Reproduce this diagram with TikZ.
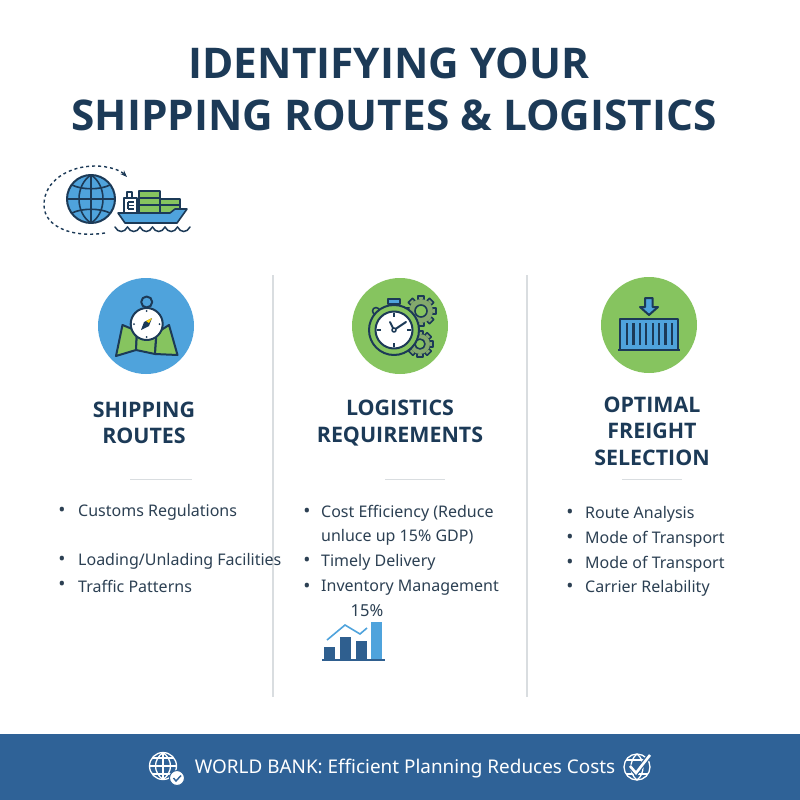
\documentclass[tikz,border=0pt]{standalone}
\usepackage{fontspec}
\setmainfont{Noto Sans}
\newfontfamily\headfont{Open Sans}
\usetikzlibrary{arrows.meta}
\definecolor{navy}{HTML}{1C3A57}
\definecolor{bodyink}{HTML}{2C4053}
\definecolor{band}{HTML}{2F6297}
\definecolor{skyblue}{HTML}{4FA3DC}
\definecolor{leaf}{HTML}{86C45F}
\definecolor{midblue}{HTML}{2F5F8F}
\definecolor{rulegray}{HTML}{D9DDE0}
\tikzset{
    titletext/.style={font=\fontsize{42.3}{42}\selectfont\headfont\bfseries, text=navy, anchor=center},
    headtext/.style={font=\fontsize{21.4}{26.5}\selectfont\headfont\bfseries, text=navy, align=center, anchor=center},
    itemtext/.style={font=\fontsize{16}{16}\selectfont, text=bodyink, anchor=west, inner sep=0pt},
    dotmark/.style={font=\fontsize{19}{19}\selectfont, text=bodyink, anchor=center, inner sep=0pt},
    icon/.style={draw=navy, line width=2pt, line join=round},
    thin icon/.style={draw=navy, line width=1.6pt, line join=round},
    white icon/.style={draw=white, line width=1.3pt},
}
\begin{document}
\begin{tikzpicture}[x=1pt,y=-1pt]
    \useasboundingbox (0,0) rectangle (800,800);
    \fill[white] (0,0) rectangle (800,800);

    % title
    \node[titletext] (titleA) at (389,63) {IDENTIFYING YOUR};
    \node[titletext] (titleB) at (394,115) {SHIPPING ROUTES \& LOGISTICS};

    % globe and ship
    \draw[navy, line width=1.4pt, dashed, -{Stealth[length=7pt]}] (105,233) .. controls (75,238) and (44,228) .. (44,205)
        .. controls (44,180) and (70,166) .. (95,166) .. controls (108,166) and (120,170) .. (127,177);
    \filldraw[icon, fill=skyblue] (91,199) circle (24);
    \draw[thin icon] (67,199) -- (115,199);
    \draw[thin icon] (91,175) -- (91,223);
    \draw[thin icon] (91,175) .. controls (75,185) and (75,213) .. (91,223);
    \draw[thin icon] (91,175) .. controls (107,185) and (107,213) .. (91,223);
    \draw[thin icon] (72,185) .. controls (82,190) and (100,190) .. (110,185);
    \draw[thin icon] (72,213) .. controls (82,208) and (100,208) .. (110,213);
    \filldraw[thin icon, fill=white] (127,192) rectangle (132,198);
    \filldraw[thin icon, fill=white] (124,198) rectangle (137,213);
    \draw[navy, line width=1.2pt] (128,202) -- (134,202) (128,205.5) -- (134,205.5) (128,209) -- (134,209) (128,202) -- (128,209);
    \filldraw[thin icon, fill=leaf] (139,191) rectangle (160,213);
    \filldraw[thin icon, fill=leaf] (160,199) rectangle (180,213);
    \draw[thin icon] (139,198) -- (160,198) (139,205) -- (180,205);
    \filldraw[thin icon, fill=skyblue] (118,213) -- (170,213) -- (175,209) -- (187,209) -- (177,223) -- (125,223) -- cycle;
    \foreach \wx in {0,1,...,5} {
        \draw[navy, line width=1.5pt, line cap=round] (115+12.5*\wx,227) .. controls (118+12.5*\wx,233) and (124.5+12.5*\wx,233) .. (127.5+12.5*\wx,227);
    }

    % column separators
    \draw[rulegray, line width=1.2pt] (273,275) -- (273,697);
    \draw[rulegray, line width=1.2pt] (527,275) -- (527,697);

    % map icon
    \fill[skyblue] (146,326) circle (48);
    \filldraw[icon, fill=leaf] (116,356) -- (122.5,325) -- (137,331) -- (136,350) -- cycle;
    \filldraw[icon, fill=leaf] (136,350) -- (137,331) -- (156.5,333) -- (155,354) -- cycle;
    \filldraw[icon, fill=leaf] (155,354) -- (156.5,333) -- (169,325) -- (177.5,355) -- cycle;
    \draw[icon] (146.7,302) circle (5.5);
    \filldraw[icon, fill=white] (146.7,324) circle (16);
    \fill[navy] (152,318) -- (149,326) -- (141,330) -- (144,322) -- cycle;
    \fill[yellow!70!orange] (152,318) -- (149,323) -- (146,321) -- cycle;
    \fill[navy] (146.7,311) circle (1) (146.7,337) circle (1) (134,324) circle (1) (159.5,324) circle (1);

    % stopwatch icon
    \fill[leaf] (400,326) circle (48);
    \foreach \gx/\gy/\gr in {421/311/12, 420/344/10} {
        \foreach \ang in {0,45,...,315} {
            \filldraw[thin icon, fill=leaf!60!gray, rotate around={\ang:(\gx,\gy)}] (\gx-3,\gy-\gr+1) rectangle (\gx+3,\gy-\gr-3);
        }
        \fill[leaf!60!gray] (\gx,\gy) circle (\gr);
        \filldraw[thin icon, fill=leaf] (\gx,\gy) circle (\gr*0.5);
    }
    \filldraw[thin icon, fill=skyblue] (388,299) rectangle (400,304);
    \filldraw[thin icon, fill=leaf] (376,311) circle (3.5);
    \filldraw[icon, fill=leaf] (394,330) circle (25);
    \filldraw[icon, fill=white] (394,330) circle (18.5);
    \foreach \ang in {0,90,180,270} {
        \draw[navy, line width=1.2pt, rotate around={\ang:(394,330)}] (394,313) -- (394,317);
    }
    \draw[navy, line width=2pt, line cap=round] (390,322) -- (394,330) -- (406,322);
    \filldraw[thin icon, fill=white] (394,330) circle (2);

    % container icon
    \fill[leaf] (649,325) circle (48);
    \filldraw[icon, fill=skyblue] (645,298) -- (652.5,298) -- (652.5,307) -- (658,307) -- (649,315) -- (640,307) -- (645,307) -- cycle;
    \filldraw[icon, fill=skyblue] (620,319) rectangle (678,350);
    \foreach \bx in {0,1,...,7} {
        \fill[navy] (627+6.4*\bx-1.1,323) rectangle (627+6.4*\bx+1.1,345);
    }
    \draw[navy, line width=2pt] (618,350) -- (680,350);

    % column heads
    \node[headtext] (headA) at (144,423) {SHIPPING\\ROUTES};
    \node[headtext] (headB) at (400,423) {LOGISTICS\\REQUIREMENTS};
    \node[headtext] (headC) at (652,431) {OPTIMAL\\FREIGHT\\SELECTION};
    \draw[rulegray, line width=1pt] (130,479) -- (192,479);
    \draw[rulegray, line width=1pt] (385,479) -- (445,479);
    \draw[rulegray, line width=1pt] (622,479) -- (682,479);

    % first column
    \node[dotmark] (dotA1) at (62,512) {•};
    \node[itemtext] (itemA1) at (78,512) {Customs Regulations};
    \node[dotmark] (dotA2) at (62,561) {•};
    \node[itemtext] (itemA2) at (78,561) {Loading/Unlading Facilities};
    \node[dotmark] (dotA3) at (62,586) {•};
    \node[itemtext] (itemA3) at (78,586) {Traffic Patterns};

    % second column
    \node[dotmark] (dotB1) at (307,513) {•};
    \node[itemtext] (itemB1) at (321,513) {Cost Efficiency (Reduce};
    \node[itemtext] (itemB1b) at (321,537) {unluce up 15\% GDP)};
    \node[dotmark] (dotB2) at (307,562) {•};
    \node[itemtext] (itemB2) at (321,562) {Timely Delivery};
    \node[dotmark] (dotB3) at (307,588) {•};
    \node[itemtext] (itemB3) at (321,588) {Inventory Management};

    % third column
    \node[dotmark] (dotC1) at (570,514) {•};
    \node[itemtext] (itemC1) at (585,514) {Route Analysis};
    \node[dotmark] (dotC2) at (570,539) {•};
    \node[itemtext] (itemC2) at (585,539) {Mode of Transport};
    \node[dotmark] (dotC3) at (570,564) {•};
    \node[itemtext] (itemC3) at (585,564) {Mode of Transport};
    \node[dotmark] (dotC4) at (570,588) {•};
    \node[itemtext] (itemC4) at (585,588) {Carrier Relability};

    % small chart
    \node[font=\fontsize{16.5}{16.5}\selectfont, text=bodyink, inner sep=0pt] (chartlabel) at (367,611) {15\%};
    \fill[midblue] (324,647) rectangle (335,660);
    \fill[midblue] (340,637) rectangle (351,660);
    \fill[midblue] (356,641) rectangle (367,660);
    \fill[skyblue] (371,622) rectangle (382,660);
    \draw[midblue, line width=1.4pt] (322,660) -- (385,660);
    \draw[skyblue, line width=1.6pt] (327,640) -- (345,625) -- (360,634) -- (367,628);

    % bottom band
    \fill[band] (0,734) rectangle (800,800);
    \node[font=\fontsize{18.9}{18.9}\selectfont, text=white, inner sep=0pt] (bandtext) at (405,769) {WORLD BANK: Efficient Planning Reduces Costs};
    \draw[white icon] (163,766) circle (13.5);
    \draw[white icon] (149.5,766) -- (176.5,766) (163,752.5) -- (163,779.5);
    \draw[white icon] (152,758) -- (174,758) (152,774) -- (174,774);
    \draw[white icon] (163,752.5) .. controls (153,760) and (153,772) .. (163,779.5);
    \draw[white icon] (163,752.5) .. controls (173,760) and (173,772) .. (163,779.5);
    \filldraw[draw=band, fill=white, line width=1pt] (177,778) circle (7.5);
    \draw[band, line width=1.4pt] (173.5,778) -- (176,781) -- (181,775.5);
    \draw[white icon] (637,767) circle (13);
    \draw[white icon] (637,754) .. controls (629,760) and (629,774) .. (637,780);
    \draw[white icon] (637,754) .. controls (645,760) and (645,774) .. (637,780);
    \draw[white icon] (626,760) -- (648,760) (626,774) -- (648,774);
    \draw[band, line width=5pt] (630,766) -- (636,773) -- (650,755);
    \draw[white, line width=2.6pt] (630,766) -- (636,773) -- (650,755);
\end{tikzpicture}
\end{document}
